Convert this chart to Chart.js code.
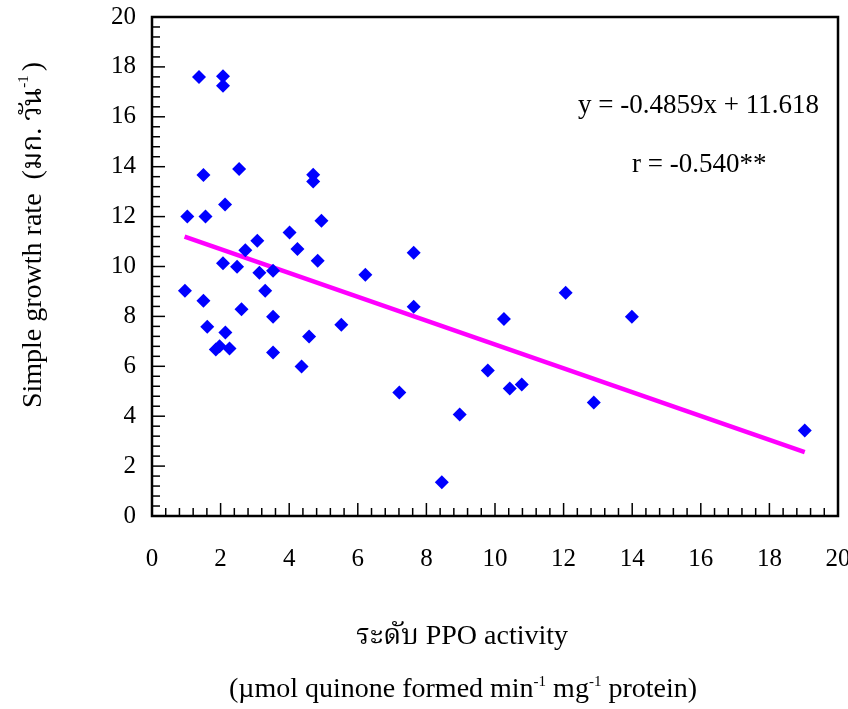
<!DOCTYPE html>
<html><head><meta charset="utf-8">
<script src="https://cdn.jsdelivr.net/npm/chart.js@4.4.0/dist/chart.umd.min.js"></script>
<style>html,body{margin:0;padding:0;background:#fff}#wrap{width:848px;height:709px}</style>
</head><body><div id="wrap"><canvas id="c" width="848" height="709"></canvas></div>
<script>
// ---- data ----
const ppoActivity = [1.37,2.07,2.07,1.50,2.54,4.70,4.70,2.13,1.03,1.56,4.94,4.01,4.24,3.07,2.72,2.07,2.48,3.13,3.53,4.83,6.22,7.63,0.96,1.50,3.30,2.61,7.63,1.61,3.53,5.52,2.14,4.58,10.26,12.06,13.99,1.86,1.97,2.26,3.53,4.36,9.79,10.43,10.78,7.21,8.97,12.88,19.03,8.45];
const growthRate  = [17.60,17.63,17.24,13.67,13.91,13.68,13.41,12.48,12.00,12.00,11.83,11.36,10.70,11.03,10.65,10.13,9.99,9.75,9.83,10.23,9.67,10.55,9.03,8.63,9.03,8.29,8.39,7.59,7.99,7.67,7.35,7.19,7.90,8.95,7.99,6.67,6.80,6.71,6.55,5.99,5.83,5.11,5.27,4.95,4.07,4.55,3.43,1.35];
const trendX = [0.95, 19.03];
const trendY = [11.20, 2.56];
const xTickValues = [0,2,4,6,8,10,12,14,16,18,20];
const yTickValues = [0,2,4,6,8,10,12,14,16,18,20];
const equationText = 'y = -0.4859x + 11.618';
const rText = 'r = -0.540**';
const yTitleMain = 'Simple growth rate  (มก. วัน';
const yTitleSup = '-1';
const yTitleEnd = ')';
const xTitle1 = 'ระดับ PPO activity';
const xTitle2Parts = [['(µmol quinone formed min',0],['-1',1],[' mg',0],['-1',1],[' protein)',0]];

const FONT = "'Liberation Serif','Times New Roman','Noto Serif Thai','Loma','Norasi',serif";
const BIG = '27px ';
const SUP = '15px ';

const scatterData = ppoActivity.map((x,i)=>({x:x,y:growthRate[i]}));
const lineData = trendX.map((x,i)=>({x:x,y:trendY[i]}));

const decor = {
  id:'decor',
  afterDatasetsDraw(chart){
    const ctx = chart.ctx, a = chart.chartArea;
    const xs = chart.scales.x, ys = chart.scales.y;
    ctx.save();
    ctx.strokeStyle = '#000'; ctx.lineWidth = 2.5;
    ctx.strokeRect(a.left, a.top, a.right - a.left, a.bottom - a.top);
    ctx.lineWidth = 1.5;
    for (let k = 0; k <= 50; k++) {
      const v = k * 0.4;
      const major = (k % 5 === 0);
      const len = major ? 13 : 8;
      const py = ys.getPixelForValue(v);
      ctx.beginPath(); ctx.moveTo(a.left, py); ctx.lineTo(a.left + len, py); ctx.stroke();
      const px = xs.getPixelForValue(v);
      ctx.beginPath(); ctx.moveTo(px, a.bottom); ctx.lineTo(px, a.bottom - len); ctx.stroke();
    }
    ctx.restore();
  },
  afterDraw(chart){
    const ctx = chart.ctx;
    ctx.save();
    ctx.fillStyle = '#000';
    ctx.textBaseline = 'alphabetic';
    ctx.font = BIG + FONT;
    ctx.textAlign = 'left';
    ctx.fillText(equationText, 578, 113);
    ctx.fillText(rText, 632, 172);
    ctx.font = '28px ' + FONT;
    ctx.textAlign = 'center';
    ctx.fillText(xTitle1, 462, 644);
    let total = 0;
    const widths = xTitle2Parts.map(([t,s])=>{ ctx.font = (s?SUP:'28px ') + FONT; const w = ctx.measureText(t).width; total += w; return w; });
    let cx = 463 - total/2;
    ctx.textAlign = 'left';
    xTitle2Parts.forEach(([t,s],i)=>{ ctx.font = (s?SUP:'28px ') + FONT; ctx.fillText(t, cx, s ? 686 : 697); cx += widths[i]; });
    ctx.translate(41, 235);
    ctx.rotate(-Math.PI/2);
    ctx.font = '28px ' + FONT; const w1 = ctx.measureText(yTitleMain).width;
    ctx.font = SUP + FONT; const w2 = ctx.measureText(yTitleSup).width;
    ctx.font = '28px ' + FONT; const w3 = ctx.measureText(yTitleEnd).width;
    let sx = -(w1 + w2 + 4 + w3)/2;
    ctx.fillText(yTitleMain, sx, 0); sx += w1;
    ctx.font = SUP + FONT; ctx.fillText(yTitleSup, sx, -13); sx += w2 + 4;
    ctx.font = '28px ' + FONT; ctx.fillText(yTitleEnd, sx, 0);
    ctx.restore();
  }
};

new Chart(document.getElementById('c'), {
  type: 'scatter',
  data: { datasets: [
    { label:'data', data: scatterData, pointStyle:'rectRot', pointRadius:7, pointHoverRadius:7,
      backgroundColor:'#0000FF', borderColor:'#0000FF', borderWidth:0, order:0 },
    { type:'line', label:'trend', data: lineData, borderColor:'#FF00FF', borderWidth:4.5,
      pointRadius:0, fill:false, showLine:true, order:1 }
  ]},
  options: {
    responsive:false, animation:false, devicePixelRatio:1,
    layout:{ autoPadding:false, padding:{ left:0, right:10, top:17, bottom:0 } },
    plugins:{ legend:{display:false}, tooltip:{enabled:false} },
    scales:{
      x:{ type:'linear', min:0, max:20,
          afterBuildTicks(s){ s.ticks = xTickValues.map(v=>({value:v})); },
          afterFit(s){ s.height = 193; s.paddingLeft = 0; s.paddingRight = 0; },
          grid:{ display:false, drawTicks:false },
          border:{ display:false },
          ticks:{ color:'#000', font:{ family:FONT, size:25 }, padding:28, maxRotation:0, autoSkip:false } },
      y:{ type:'linear', min:0, max:20,
          afterBuildTicks(s){ s.ticks = yTickValues.map(v=>({value:v})); },
          afterFit(s){ s.width = 152; s.paddingTop = 0; s.paddingBottom = 0; },
          grid:{ display:false, drawTicks:false },
          border:{ display:false },
          ticks:{ color:'#000', font:{ family:FONT, size:25 }, padding:16, autoSkip:false } }
    }
  },
  plugins:[decor]
});
</script></body></html>
